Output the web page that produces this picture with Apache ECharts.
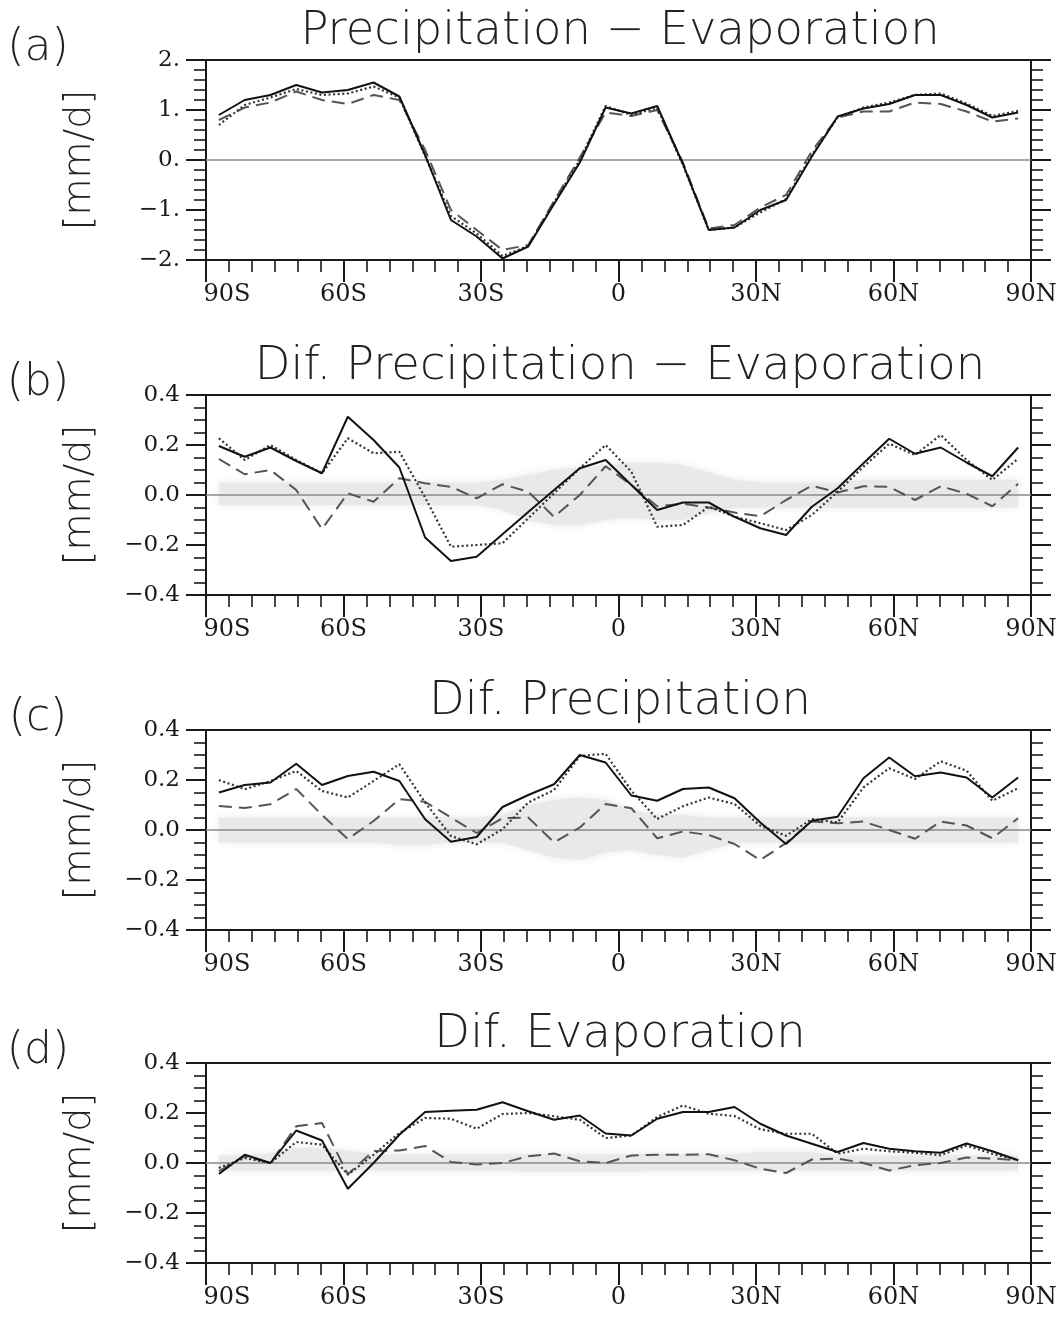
<!DOCTYPE html>
<html><head><meta charset="utf-8">
<script src="https://cdn.jsdelivr.net/npm/echarts@6/dist/echarts.min.js"></script>
<style>html,body{margin:0;padding:0;background:#fff}#c{width:1064px;height:1329px}</style>
</head><body><div id="c"></div>
<script>
// ---- data ----
const lats = [-87.19,-81.56,-75.94,-70.31,-64.69,-59.06,-53.44,-47.81,-42.19,-36.56,-30.94,-25.31,-19.69,-14.06,-8.44,-2.81,
              2.81,8.44,14.06,19.69,25.31,30.94,36.56,42.19,47.81,53.44,59.06,64.69,70.31,75.94,81.56,87.19];
const xTickValues = [-90,-60,-30,0,30,60,90];
const xTickLabels = ['90S','60S','30S','0','30N','60N','90N'];
const yTickValuesA = [-2,-1,0,1,2];
const yTickLabelsA = ['\u22122.','\u22121.','0.','1.','2.'];
const yTickValuesB = [-0.4,-0.2,0,0.2,0.4];
const yTickLabelsB = ['\u22120.4','\u22120.2','0.0','0.2','0.4'];
const panelTitles = ['Precipitation \u2212 Evaporation','Dif. Precipitation \u2212 Evaporation','Dif. Precipitation','Dif. Evaporation'];
const panelLetters = ['(a)','(b)','(c)','(d)'];
const yName = '[mm/d]';

// (a) Precipitation - Evaporation
const solidA = [0.9,1.2,1.3,1.5,1.35,1.4,1.55,1.27,0.1,-1.2,-1.53,-1.97,-1.73,-0.88,-0.05,1.05,0.93,1.08,-0.08,-1.4,-1.35,-1.0,-0.8,0.07,0.87,1.03,1.12,1.3,1.3,1.1,0.85,0.95];
const dotA   = [0.7,1.1,1.25,1.42,1.3,1.33,1.47,1.25,0.08,-1.12,-1.47,-1.92,-1.72,-0.85,0.0,1.08,0.9,1.05,-0.1,-1.4,-1.35,-1.05,-0.78,0.1,0.85,1.05,1.15,1.3,1.33,1.13,0.88,0.98];
const dashA  = [0.8,1.05,1.15,1.37,1.2,1.12,1.3,1.2,0.2,-1.0,-1.4,-1.8,-1.7,-0.82,0.05,0.95,0.88,1.0,-0.05,-1.37,-1.3,-0.95,-0.7,0.18,0.85,0.97,0.97,1.15,1.12,0.97,0.77,0.83];

// (b) Dif. Precipitation - Evaporation
const solidB = [0.196,0.153,0.19,0.136,0.087,0.313,0.22,0.11,-0.17,-0.264,-0.247,-0.157,-0.068,0.02,0.107,0.14,0.04,-0.06,-0.03,-0.03,-0.087,-0.133,-0.16,-0.047,0.027,0.127,0.225,0.165,0.19,0.13,0.075,0.19];
const dotB   = [0.227,0.14,0.2,0.14,0.087,0.227,0.167,0.173,-0.01,-0.207,-0.2,-0.193,-0.093,0.007,0.107,0.2,0.093,-0.127,-0.12,-0.047,-0.087,-0.113,-0.14,-0.08,0.013,0.113,0.205,0.16,0.24,0.14,0.06,0.145];
const dashB  = [0.144,0.083,0.1,0.02,-0.136,0.007,-0.027,0.067,0.047,0.033,-0.013,0.043,0.013,-0.087,0.0,0.115,0.04,-0.045,-0.035,-0.05,-0.07,-0.085,-0.02,0.037,0.01,0.035,0.033,-0.02,0.035,0.005,-0.045,0.045];
const bandUpB = [0.05,0.05,0.05,0.05,0.05,0.05,0.05,0.05,0.05,0.05,0.05,0.06,0.08,0.1,0.11,0.12,0.13,0.13,0.12,0.09,0.06,0.05,0.05,0.05,0.05,0.06,0.06,0.06,0.06,0.06,0.06,0.06];
const bandLoB = [-0.04,-0.04,-0.04,-0.04,-0.04,-0.04,-0.04,-0.04,-0.04,-0.04,-0.04,-0.06,-0.1,-0.12,-0.12,-0.1,-0.09,-0.1,-0.1,-0.07,-0.05,-0.05,-0.05,-0.05,-0.05,-0.05,-0.05,-0.05,-0.05,-0.05,-0.05,-0.05];

// (c) Dif. Precipitation
const solidC = [0.15,0.18,0.19,0.265,0.18,0.216,0.233,0.196,0.043,-0.047,-0.028,0.092,0.14,0.183,0.3,0.27,0.138,0.117,0.164,0.17,0.127,0.03,-0.056,0.037,0.053,0.207,0.29,0.215,0.23,0.21,0.13,0.21];
const dotC   = [0.2,0.163,0.196,0.236,0.156,0.13,0.196,0.263,0.11,-0.024,-0.057,0.003,0.11,0.16,0.296,0.305,0.157,0.044,0.095,0.13,0.104,0.017,-0.023,0.044,0.03,0.17,0.247,0.204,0.275,0.237,0.117,0.167];
const dashC  = [0.096,0.088,0.103,0.164,0.06,-0.036,0.036,0.123,0.113,0.05,-0.012,0.047,0.05,-0.05,0.01,0.104,0.087,-0.033,-0.006,-0.02,-0.056,-0.12,-0.052,0.034,0.027,0.034,0.0,-0.035,0.034,0.018,-0.033,0.047];
const bandUpC = [0.05,0.05,0.05,0.05,0.05,0.05,0.05,0.05,0.05,0.05,0.05,0.06,0.1,0.12,0.13,0.12,0.08,0.06,0.06,0.05,0.05,0.05,0.05,0.05,0.05,0.05,0.05,0.05,0.05,0.05,0.05,0.05];
const bandLoC = [-0.05,-0.05,-0.05,-0.05,-0.05,-0.05,-0.05,-0.06,-0.06,-0.05,-0.05,-0.05,-0.08,-0.11,-0.12,-0.09,-0.08,-0.1,-0.11,-0.08,-0.05,-0.05,-0.05,-0.05,-0.05,-0.05,-0.05,-0.05,-0.05,-0.05,-0.05,-0.05];

// (d) Dif. Evaporation
const solidD = [-0.044,0.033,0.0,0.13,0.09,-0.103,0.0,0.113,0.204,0.209,0.213,0.243,0.207,0.173,0.19,0.118,0.11,0.177,0.204,0.204,0.224,0.157,0.11,0.077,0.044,0.08,0.057,0.047,0.041,0.078,0.047,0.011];
const dotD   = [-0.02,0.02,0.0,0.084,0.073,-0.047,0.033,0.12,0.18,0.177,0.137,0.196,0.2,0.187,0.173,0.1,0.11,0.184,0.23,0.197,0.188,0.135,0.117,0.117,0.037,0.057,0.047,0.041,0.031,0.07,0.037,0.011];
const dashD  = [-0.033,0.027,0.0,0.147,0.16,-0.045,0.048,0.05,0.068,0.004,-0.006,0.0,0.027,0.038,0.007,0.0,0.03,0.033,0.033,0.035,0.011,-0.023,-0.04,0.014,0.018,0.0,-0.03,-0.009,0.0,0.022,0.018,0.011];
const bandUpD = [0.03,0.03,0.04,0.06,0.06,0.05,0.035,0.035,0.035,0.035,0.035,0.035,0.035,0.035,0.035,0.035,0.035,0.035,0.035,0.035,0.035,0.045,0.045,0.045,0.03,0.03,0.03,0.03,0.03,0.03,0.03,0.03];
const bandLoD = [-0.03,-0.03,-0.03,-0.03,-0.03,-0.03,-0.03,-0.03,-0.03,-0.03,-0.03,-0.03,-0.035,-0.035,-0.035,-0.035,-0.035,-0.03,-0.03,-0.03,-0.03,-0.03,-0.03,-0.03,-0.03,-0.03,-0.03,-0.03,-0.03,-0.03,-0.03,-0.03];

// ---- layout ----
const tops = [60, 395, 730, 1063];
const plotH = 200;
const panels = [
  {solid: solidA, dot: dotA, dash: dashA, up: null, lo: null, yv: yTickValuesA, yl: yTickLabelsA, min: -2, max: 2, interval: 1, minorSplit: 5},
  {solid: solidB, dot: dotB, dash: dashB, up: bandUpB, lo: bandLoB, yv: yTickValuesB, yl: yTickLabelsB, min: -0.4, max: 0.4, interval: 0.2, minorSplit: 4},
  {solid: solidC, dot: dotC, dash: dashC, up: bandUpC, lo: bandLoC, yv: yTickValuesB, yl: yTickLabelsB, min: -0.4, max: 0.4, interval: 0.2, minorSplit: 4},
  {solid: solidD, dot: dotD, dash: dashD, up: bandUpD, lo: bandLoD, yv: yTickValuesB, yl: yTickLabelsB, min: -0.4, max: 0.4, interval: 0.2, minorSplit: 4}
];

const ink = '#1a1a1a';
const thinFont = '"DejaVu Sans", sans-serif';
const pair = arr => lats.map((x, i) => [x, arr[i]]);
const labelFor = (vals, labs) => v => { for (let i = 0; i < vals.length; i++) if (Math.abs(vals[i] - v) < 1e-6) return labs[i]; return ''; };
const xLabel = v => { const t = labelFor(xTickValues, xTickLabels)(v); return v === xTickValues[0] ? '{first|' + t + '}' : t; };

const grid = [], xAxis = [], yAxis = [], series = [], graphic = [];
panels.forEach((p, i) => {
  grid.push({left: 206, right: 33, top: tops[i], height: plotH});
  xAxis.push({
    type: 'value', gridIndex: i, position: 'bottom', min: -90, max: 90, interval: 30,
    axisLine: {show: true, onZero: false, lineStyle: {color: ink, width: 2}},
    axisTick: {show: true, inside: false, length: 22, lineStyle: {color: ink, width: 2}},
    minorTick: {show: true, splitNumber: 6, length: 12, lineStyle: {color: ink, width: 1.6}},
    splitLine: {show: false},
    axisLabel: {show: true, margin: 23, color: ink, fontFamily: 'DejaVu Serif', fontSize: 24,
      formatter: xLabel,
      rich: {first: {color: ink, fontFamily: 'DejaVu Serif', fontSize: 24, padding: [0, 0, 0, 42]}}}
  });
  xAxis.push({
    type: 'value', gridIndex: i, position: 'top', min: -90, max: 90, interval: 30,
    axisLine: {show: true, onZero: false, lineStyle: {color: ink, width: 2}},
    axisTick: {show: false}, axisLabel: {show: false}, splitLine: {show: false}
  });
  yAxis.push({
    type: 'value', gridIndex: i, position: 'left', min: p.min, max: p.max, interval: p.interval,
    axisLine: {show: true, onZero: false, lineStyle: {color: ink, width: 2}},
    axisTick: {show: true, inside: false, length: 20, lineStyle: {color: ink, width: 2}},
    minorTick: {show: true, splitNumber: p.minorSplit, length: 12, lineStyle: {color: ink, width: 1.6}},
    splitLine: {show: false},
    axisLabel: {show: true, margin: 26, color: ink, fontFamily: 'DejaVu Serif', fontSize: 23,
      formatter: labelFor(p.yv, p.yl)}
  });
  yAxis.push({
    type: 'value', gridIndex: i, position: 'right', min: p.min, max: p.max, interval: p.interval,
    axisLine: {show: true, onZero: false, lineStyle: {color: ink, width: 2}},
    axisTick: {show: true, inside: false, length: 20, lineStyle: {color: ink, width: 2}},
    minorTick: {show: true, splitNumber: p.minorSplit, length: 12, lineStyle: {color: ink, width: 1.6}},
    splitLine: {show: false}, axisLabel: {show: false}
  });
  const xi = 2 * i, yi = 2 * i;
  if (p.up) {
    [p.up, p.lo].forEach(b => series.push({
      type: 'line', xAxisIndex: xi, yAxisIndex: yi, data: pair(b), symbol: 'none', silent: true,
      lineStyle: {width: 0, opacity: 0}, z: 1,
      areaStyle: {color: '#e9e9e9', opacity: 1, shadowBlur: 8, shadowColor: '#e9e9e9'}
    }));
  }
  series.push({
    type: 'line', xAxisIndex: xi, yAxisIndex: yi, data: pair(p.dash), symbol: 'none', z: 3,
    lineStyle: {color: '#555', width: 2, type: [13, 7]},
    markLine: {silent: true, symbol: 'none', label: {show: false}, z: 2,
      lineStyle: {color: '#8a8a8a', width: 1.6, type: 'solid'}, data: [{yAxis: 0}]}
  });
  series.push({
    type: 'line', xAxisIndex: xi, yAxisIndex: yi, data: pair(p.dot), symbol: 'none', z: 4,
    lineStyle: {color: '#333', width: 2.2, type: [2, 2.6]}
  });
  series.push({
    type: 'line', xAxisIndex: xi, yAxisIndex: yi, data: pair(p.solid), symbol: 'none', z: 5,
    lineStyle: {color: '#111', width: 2, type: 'solid'}
  });
  // titles, letters, y-axis names
  graphic.push({type: 'text', x: 620, y: tops[i] - 28, z: 10,
    style: {text: panelTitles[i], font: '200 46.5px ' + thinFont, fill: '#222', textAlign: 'center', textVerticalAlign: 'middle'}});
  graphic.push({type: 'text', x: 38, y: tops[i] - 11, z: 10,
    style: {text: panelLetters[i], font: '200 44px ' + thinFont, fill: '#222', textAlign: 'center', textVerticalAlign: 'middle'}});
  graphic.push({type: 'text', x: 80, y: tops[i] + plotH / 2, rotation: Math.PI / 2, z: 10,
    style: {text: yName, font: '200 38px ' + thinFont, fill: '#222', textAlign: 'center', textVerticalAlign: 'middle'}});
});

const chart = echarts.init(document.getElementById('c'), null, {renderer: 'canvas'});
chart.setOption({animation: false, backgroundColor: '#fff', grid, xAxis, yAxis, series, graphic});
</script>
</body></html>
